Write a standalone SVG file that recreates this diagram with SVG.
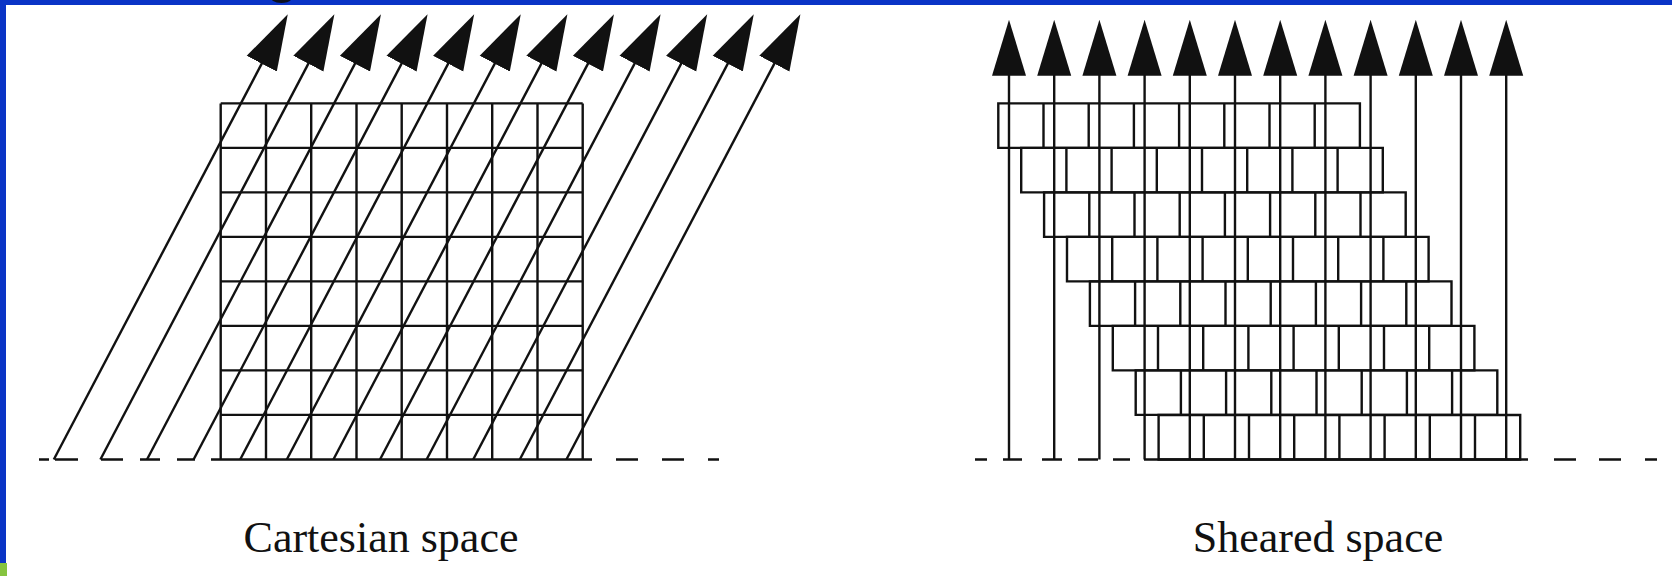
<svg xmlns="http://www.w3.org/2000/svg" xmlns:xlink="http://www.w3.org/1999/xlink" width="1672" height="576" viewBox="0 0 1672 576">
  <style>
    .ln { stroke: #111; stroke-width: 2.4; fill: none; stroke-linecap: butt; }
    .ray { stroke: #111; stroke-width: 2.4; fill: none; marker-end: url(#ah); }
    .lbl { font-family: "Liberation Serif", "Times New Roman", serif; font-size: 44px; fill: #111; text-anchor: middle; }
    .frame { fill: #0a34c6; }
  </style>
  <defs>
    <marker id="ah" markerUnits="userSpaceOnUse" markerWidth="57" markerHeight="36" viewBox="0 0 57 36" refX="47" refY="18" orient="auto">
      <path d="M0,1 L56,18 L0,35 Z" fill="#111"/>
    </marker>
    <path id="row" class="ln" d="M0,0 H361.6 V44.5 H0 Z M45.2,0 V44.5 M90.4,0 V44.5 M135.6,0 V44.5 M180.8,0 V44.5 M226,0 V44.5 M271.2,0 V44.5 M316.4,0 V44.5"/>
    <clipPath id="band"><rect x="0" y="0" width="1672" height="5"/></clipPath>
  </defs>

  <rect width="1672" height="576" fill="#ffffff"/>

  <g id="frame">
    <rect class="frame" x="0" y="0" width="1672" height="5"/>
    <rect class="frame" x="0" y="0" width="6" height="563"/>
    <rect x="0" y="563" width="7" height="13" fill="#86c440"/>
    <text x="282" y="-9" clip-path="url(#band)" font-family="Liberation Sans, Arial, sans-serif" font-size="60" fill="#0b1020" text-anchor="middle">g</text>
  </g>

  <g id="cartesian-grid">
    <path class="ln" d="M220.7,103.4 H582.7 M220.7,147.9 H582.7 M220.7,192.4 H582.7 M220.7,236.9 H582.7 M220.7,281.4 H582.7 M220.7,325.9 H582.7 M220.7,370.4 H582.7 M220.7,414.9 H582.7
      M220.7,103.4 V459.5 M266,103.4 V459.5 M311.2,103.4 V459.5 M356.5,103.4 V459.5 M401.7,103.4 V459.5 M447,103.4 V459.5 M492.2,103.4 V459.5 M537.5,103.4 V459.5 M582.7,103.4 V459.5"/>
  </g>

  <g id="cartesian-baseline">
    <path class="ln" d="M211,459.5 H592 M39,459.5 H49 M55,459.5 H78 M101,459.5 H123 M140,459.5 H160 M177,459.5 H195 M616,459.5 H638 M662,459.5 H684 M708,459.5 H719"/>
  </g>

  <g id="sheared-grid">
    <use xlink:href="#row" x="998.3" y="103.4"/>
    <use xlink:href="#row" x="1021.2" y="147.9"/>
    <use xlink:href="#row" x="1044.1" y="192.4"/>
    <use xlink:href="#row" x="1067" y="236.9"/>
    <use xlink:href="#row" x="1089.9" y="281.4"/>
    <use xlink:href="#row" x="1112.8" y="325.9"/>
    <use xlink:href="#row" x="1135.7" y="370.4"/>
    <use xlink:href="#row" x="1158.6" y="415"/>
  </g>

  <g id="sheared-baseline">
    <path class="ln" d="M1144,459.5 H1528 M975,459.5 H987 M1003,459.5 H1022 M1042,459.5 H1062 M1078,459.5 H1098 M1113,459.5 H1130 M1554,459.5 H1576 M1599,459.5 H1621 M1645,459.5 H1657"/>
  </g>

  <g id="connectors">
    <g id="cartesian-rays">
      <line class="ray" x1="53.8" y1="459.5" x2="283.6" y2="22.1"/>
      <line class="ray" x1="100.4" y1="459.5" x2="330.2" y2="22.1"/>
      <line class="ray" x1="147" y1="459.5" x2="376.8" y2="22.1"/>
      <line class="ray" x1="193.6" y1="459.5" x2="423.4" y2="22.1"/>
      <line class="ray" x1="240.2" y1="459.5" x2="470" y2="22.1"/>
      <line class="ray" x1="286.8" y1="459.5" x2="516.6" y2="22.1"/>
      <line class="ray" x1="333.4" y1="459.5" x2="563.2" y2="22.1"/>
      <line class="ray" x1="380" y1="459.5" x2="609.8" y2="22.1"/>
      <line class="ray" x1="426.6" y1="459.5" x2="656.4" y2="22.1"/>
      <line class="ray" x1="473.2" y1="459.5" x2="703" y2="22.1"/>
      <line class="ray" x1="519.8" y1="459.5" x2="749.6" y2="22.1"/>
      <line class="ray" x1="566.4" y1="459.5" x2="796.2" y2="22.1"/>
    </g>
    <g id="sheared-rays">
      <line class="ray" x1="1009" y1="459.5" x2="1009" y2="28.7"/>
      <line class="ray" x1="1054.2" y1="459.5" x2="1054.2" y2="28.7"/>
      <line class="ray" x1="1099.4" y1="459.5" x2="1099.4" y2="28.7"/>
      <line class="ray" x1="1144.6" y1="459.5" x2="1144.6" y2="28.7"/>
      <line class="ray" x1="1189.8" y1="459.5" x2="1189.8" y2="28.7"/>
      <line class="ray" x1="1235" y1="459.5" x2="1235" y2="28.7"/>
      <line class="ray" x1="1280.2" y1="459.5" x2="1280.2" y2="28.7"/>
      <line class="ray" x1="1325.4" y1="459.5" x2="1325.4" y2="28.7"/>
      <line class="ray" x1="1370.6" y1="459.5" x2="1370.6" y2="28.7"/>
      <line class="ray" x1="1415.8" y1="459.5" x2="1415.8" y2="28.7"/>
      <line class="ray" x1="1461" y1="459.5" x2="1461" y2="28.7"/>
      <line class="ray" x1="1506.2" y1="459.5" x2="1506.2" y2="28.7"/>
    </g>
  </g>

  <g id="labels">
    <text class="lbl" x="381" y="552">Cartesian space</text>
    <text class="lbl" x="1318" y="552">Sheared space</text>
  </g>
</svg>
